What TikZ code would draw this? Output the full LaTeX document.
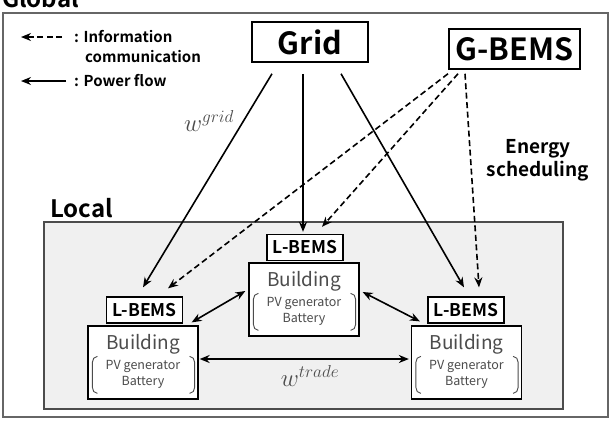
\documentclass[tikz,border=0pt]{standalone}
\usepackage{fontspec}
\setmainfont{Noto Sans CJK JP}[BoldFont={Noto Sans CJK JP Bold}]
\usetikzlibrary{arrows.meta}
\definecolor{framecol}{gray}{0.4}
\definecolor{localedge}{gray}{0.3}
\definecolor{localbg}{gray}{0.94}
\definecolor{txtgray}{gray}{0.3}
\begin{document}
\begin{tikzpicture}[x=1pt,y=-1pt,
  lbl/.style={font=\fontsize{24}{26}\selectfont\bfseries, anchor=base west, inner sep=0pt},
  leg/.style={font=\fontsize{15}{17}\selectfont\bfseries, anchor=west, inner sep=0pt},
  topbox/.style={draw, line width=1.5pt, inner sep=0pt, fill=white, font=\fontsize{30.5}{32}\selectfont\bfseries},
  lbems/.style={draw, line width=1.3pt, minimum width=76pt, minimum height=26pt, inner sep=0pt, fill=white, font=\fontsize{17.5}{19}\selectfont\bfseries},
  bldg/.style={draw, line width=1.3pt, minimum width=110pt, minimum height=73pt, inner sep=0pt, fill=white},
  btitle/.style={font=\fontsize{19}{21}\selectfont, text=txtgray, inner sep=0pt},
  bsub/.style={font=\fontsize{12.5}{13}\selectfont, text=txtgray, inner sep=0pt},
  brk/.style={draw=txtgray, line width=0.9pt},
  pow/.style={-{Stealth[length=10pt,width=8pt]}, line width=1.6pt},
  info/.style={pow, dash pattern=on 6pt off 3.5pt},
  both/.style={{Stealth[length=10pt,width=8pt]}-{Stealth[length=10pt,width=8pt]}, line width=1.6pt},
  wlab/.style={font=\fontsize{23}{25}\selectfont, text=txtgray, inner sep=0pt},
]
\useasboundingbox (0,0) rectangle (615,424);
% global frame
\draw[draw=framecol, line width=1.5pt, fill=white] (3,13) rectangle (608,417);
\node[lbl] (global) at (2,7) {Global};
% local frame
\draw[draw=localedge, line width=1.3pt, fill=localbg] (44,222) rectangle (563,409);
\node[lbl] (local) at (50,217) {Local};

% legend
\coordinate (ld1) at (62,37);
\coordinate (ld2) at (21,37);
\coordinate (lp1) at (66,81);
\coordinate (lp2) at (21,81);
\draw[info] (ld1) -- (ld2);
\draw[pow] (lp1) -- (lp2);
\node[leg] (li) at (74,37) {: Information};
\node[leg] (lc) at (85,57) {communication};
\node[leg] (lp) at (74,81) {: Power flow};

% top boxes
\node[topbox, minimum width=116pt, minimum height=40pt] (grid) at (310,42) {Grid};
\node[topbox, minimum width=131pt, minimum height=40pt] (gbems) at (514.5,49) {G-BEMS};

% energy scheduling
\node[font=\fontsize{19}{23}\selectfont\bfseries, align=center, inner sep=0pt] (es) at (538,160) {Energy\\scheduling};

% L-BEMS
\node[lbems] (lbL) at (144.5,310) {L-BEMS};
\node[lbems] (lbC) at (305,247.5) {L-BEMS};
\node[lbems] (lbR) at (466,310) {L-BEMS};

% buildings
\foreach \n/\x/\y in {bL/143/362.5, bC/304/299.5, bR/466.5/362.5}{
  \node[bldg] (\n) at (\x,\y) {};
  \node[btitle] (\n-t) at ([yshift=-19pt]\n.north) {Building};
  \node[bsub] (\n-p) at ([yshift=-41pt]\n.north) {PV generator};
  \node[bsub] (\n-b) at ([yshift=-57pt]\n.north) {Battery};
  \draw[brk] ([xshift=10pt,yshift=-31pt]\n.north west) to[out=180,in=90] ([xshift=5pt,yshift=-37pt]\n.north west)
     -- ([xshift=5pt,yshift=-62pt]\n.north west) to[out=-90,in=180] ([xshift=10pt,yshift=-68pt]\n.north west);
  \draw[brk] ([xshift=-9pt,yshift=-31pt]\n.north east) to[out=0,in=90] ([xshift=-4pt,yshift=-37pt]\n.north east)
     -- ([xshift=-4pt,yshift=-62pt]\n.north east) to[out=-90,in=0] ([xshift=-9pt,yshift=-68pt]\n.north east);
}

% power flow from grid
\draw[pow] ([xshift=-38pt,yshift=-11pt]grid.south) -- ([xshift=-1.5pt,yshift=9pt]lbL.north);
\draw[pow] ([xshift=-7pt,yshift=-11pt]grid.south) -- ([xshift=-2pt,yshift=2pt]lbC.north);
\draw[pow] ([xshift=31pt,yshift=-11pt]grid.south) -- ([xshift=-2pt,yshift=9pt]lbR.north);

% information from G-BEMS
\draw[info] ([xshift=-66.5pt,yshift=-4pt]gbems.south) -- ([xshift=23.5pt,yshift=8pt]lbL.north);
\draw[info] ([xshift=-56.5pt,yshift=-4pt]gbems.south) -- ([xshift=17pt,yshift=7pt]lbC.north);
\draw[info] ([xshift=-49.5pt,yshift=-4pt]gbems.south) -- ([xshift=13pt,yshift=9pt]lbR.north);

% trades between buildings
\draw[both] ([xshift=-7pt,yshift=3pt]bL.north east) -- ([xshift=-3pt,yshift=8.5pt]bC.west);
\draw[both] ([xshift=3pt,yshift=7.5pt]bC.east) -- ([xshift=9pt,yshift=4pt]bR.north west);
\draw[both] ([xshift=1pt,yshift=3.5pt]bL.east) -- ([xshift=-2pt,yshift=3.5pt]bR.west);

% weights
\node[wlab] (wg) at (209,121) {$w^{grid}$};
\node[wlab] (wt) at (310,376) {$w^{trade}$};
\end{tikzpicture}
\end{document}
